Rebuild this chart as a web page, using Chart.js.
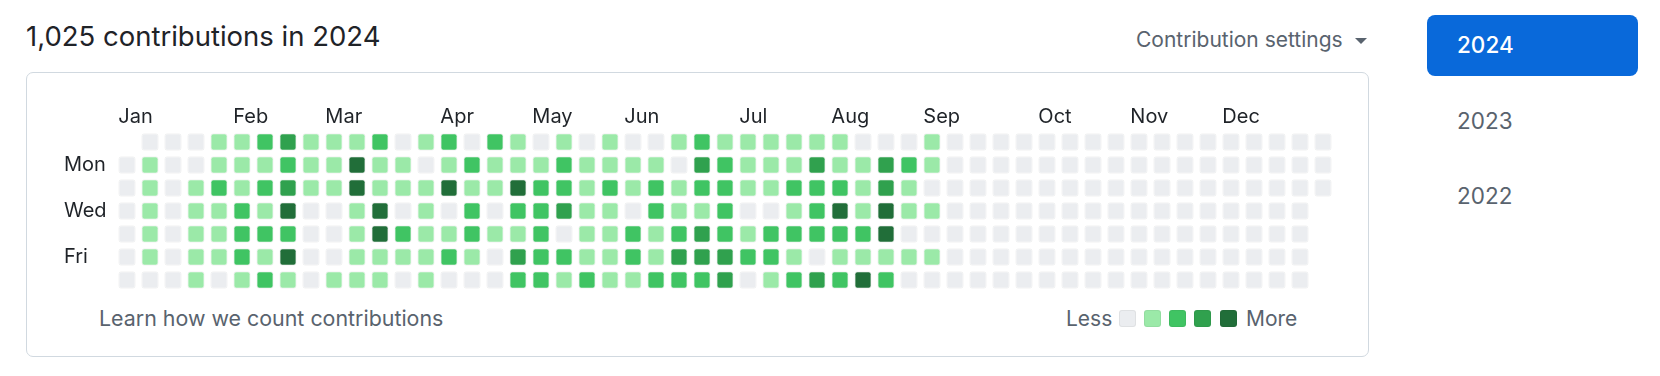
<!DOCTYPE html>
<html>
<head>
<meta charset="utf-8">
<script src="https://cdn.jsdelivr.net/npm/chart.js@4.4.1/dist/chart.umd.min.js"></script>
<style>
  html, body { margin: 0; padding: 0; background: #ffffff; }
  body { width: 1660px; height: 376px; position: relative; overflow: hidden;
         font-family: Inter, "Noto Sans", "DejaVu Sans", sans-serif; color: #1f2328; }
  .t { position: absolute; white-space: nowrap; line-height: 1; }
  #box { position: absolute; left: 26px; top: 72px; width: 1343px; height: 285px;
         border: 1px solid #d1d9e0; border-radius: 7px; box-sizing: border-box; }
  #chartWrap { position: absolute; left: 0; top: 0; width: 1660px; height: 376px; z-index: 2; }
  .sq { position: absolute; width: 17px; height: 17px; border-radius: 3px; box-sizing: border-box;
        border: 1px solid rgba(31,35,40,0.06); top: 310px; }
  #btn { position: absolute; left: 1427px; top: 15px; width: 211px; height: 61px;
         background: #0969da; border-radius: 8px; }
  #tri { position: absolute; left: 1355px; top: 38px; width: 0; height: 0;
         border-left: 6px solid transparent; border-right: 6px solid transparent; border-top: 6px solid #59636e; }
</style>
</head>
<body>
<div class="t" id="title" style="left:26px; top:23px; font-size:27.5px; color:#1f2328;">1,025 contributions in 2024</div>
<div class="t" style="left:1136px; top:28.7px; font-size:21px; color:#59636e;">Contribution settings</div>
<div id="tri"></div>
<div id="box"></div>
<div class="t" style="left:99px; top:307.6px; font-size:21.4px; color:#59636e;">Learn how we count contributions</div>
<div class="t" style="left:1066px; top:307.9px; font-size:21px; color:#59636e;">Less</div>
<div class="sq" style="left:1119px; background:#ebedf0;"></div>
<div class="sq" style="left:1144px; background:#9be9a8;"></div>
<div class="sq" style="left:1169px; background:#40c463;"></div>
<div class="sq" style="left:1194px; background:#30a14e;"></div>
<div class="sq" style="left:1220px; background:#216e39;"></div>
<div class="t" style="left:1246px; top:307.9px; font-size:21px; color:#59636e;">More</div>
<div id="btn"></div>
<div class="t" style="left:1457px; top:33.8px; font-size:22.5px; color:#ffffff; font-weight:500;">2024</div>
<div class="t" style="left:1457px; top:110px; font-size:22.5px; color:#59636e;">2023</div>
<div class="t" style="left:1457px; top:185.3px; font-size:22.5px; color:#59636e;">2022</div>
<div id="chartWrap"><canvas id="c" width="1660" height="376"></canvas></div>
<script>
// Month labels and the week column where each month label starts
const months = ['Jan','Feb','Mar','Apr','May','Jun','Jul','Aug','Sep','Oct','Nov','Dec'];
const monthCols = [0, 5, 9, 14, 18, 22, 27, 31, 35, 40, 44, 48];
// Weekday row labels (rows 0..6 = Sun..Sat)
const dayLabels = ['Mon', 'Wed', 'Fri'];
const dayRows = [1, 3, 5];
// Contribution level (0-4) per week column (53 weeks); null = no day
const sun = [null,0,0,0,1,1,2,3,1,1,1,2,0,1,2,0,2,1,0,1,0,1,0,0,1,2,1,1,1,1,1,1,0,0,0,1,0,0,0,0,0,0,0,0,0,0,0,0,0,0,0,0,0];
const mon = [0,1,0,0,1,1,1,2,1,1,4,1,1,0,1,2,1,1,1,2,1,1,1,1,0,3,2,1,1,1,3,1,1,3,2,1,0,0,0,0,0,0,0,0,0,0,0,0,0,0,0,0,0];
const tue = [0,1,0,1,2,1,2,3,1,1,4,1,1,1,4,1,1,4,2,2,1,2,1,2,1,2,2,1,1,2,2,2,1,3,1,0,0,0,0,0,0,0,0,0,0,0,0,0,0,0,0,0,0];
const wed = [0,1,0,1,1,2,1,4,0,0,1,4,0,1,0,2,0,2,2,3,1,1,0,2,1,1,2,0,0,1,2,4,1,4,1,1,0,0,0,0,0,0,0,0,0,0,0,0,0,0,0,0,null];
const thu = [0,1,0,1,1,2,2,2,0,0,1,4,2,1,1,2,1,1,2,0,1,1,2,1,2,3,2,1,2,2,2,2,2,4,0,0,0,0,0,0,0,0,0,0,0,0,0,0,0,0,0,0,null];
const fri = [0,1,0,1,1,2,1,4,0,0,1,1,1,1,2,1,0,3,2,2,1,1,2,1,3,3,3,2,2,1,0,1,1,1,1,1,0,0,0,0,0,0,0,0,0,0,0,0,0,0,0,0,null];
const sat = [0,0,0,1,0,1,2,1,0,1,1,1,0,1,0,0,0,2,2,1,2,1,1,2,2,2,3,0,1,2,3,2,4,2,0,0,0,0,0,0,0,0,0,0,0,0,0,0,0,0,0,0,null];
const levelColors = ['#ebedf0', '#9be9a8', '#40c463', '#30a14e', '#216e39'];

const weekRows = [sun, mon, tue, wed, thu, fri, sat];
const half = 0.376;
const cells = [];
weekRows.forEach((row, r) => {
  row.forEach((lv, c) => {
    if (lv !== null) cells.push({ x: c, y: [r - half, r + half], level: lv });
  });
});

const labelFont = { family: 'Inter, "Noto Sans", sans-serif', size: 20 };

new Chart(document.getElementById('c'), {
  type: 'bar',
  data: {
    datasets: [{
      data: cells,
      backgroundColor: (ctx) => levelColors[ctx.raw ? ctx.raw.level : 0],
      borderColor: 'rgba(31,35,40,0.06)',
      borderWidth: 1,
      borderSkipped: false,
      borderRadius: 3,
      categoryPercentage: 1,
      barPercentage: 0.752
    }]
  },
  options: {
    responsive: false,
    animation: false,
    devicePixelRatio: 1,
    events: [],
    layout: { padding: { left: 64, top: 100, right: 325.5, bottom: 84.5 } },
    plugins: { legend: { display: false }, tooltip: { enabled: false } },
    scales: {
      x: {
        type: 'linear',
        position: 'top',
        offset: false,
        min: -0.5,
        max: 52.5,
        grid: { display: false, drawTicks: false, offset: false },
        border: { display: false },
        afterBuildTicks: (s) => { s.ticks = monthCols.map(c => ({ value: c - half })); },
        afterFit: (s) => { s.height = 30.5; },
        ticks: {
          autoSkip: false,
          maxRotation: 0,
          align: 'start',
          padding: 1.3,
          color: '#1f2328',
          font: labelFont,
          callback: (v, i) => months[i]
        }
      },
      y: {
        type: 'linear',
        position: 'left',
        reverse: true,
        min: -0.5,
        max: 6.5,
        grid: { display: false, drawTicks: false },
        border: { display: false },
        afterBuildTicks: (s) => { s.ticks = dayRows.map(r => ({ value: r })); },
        afterFit: (s) => { s.width = 51.5; },
        ticks: {
          autoSkip: false,
          crossAlign: 'far',
          padding: 0,
          color: '#1f2328',
          font: labelFont,
          callback: (v, i) => dayLabels[i]
        }
      }
    }
  }
});
</script>
</body>
</html>
